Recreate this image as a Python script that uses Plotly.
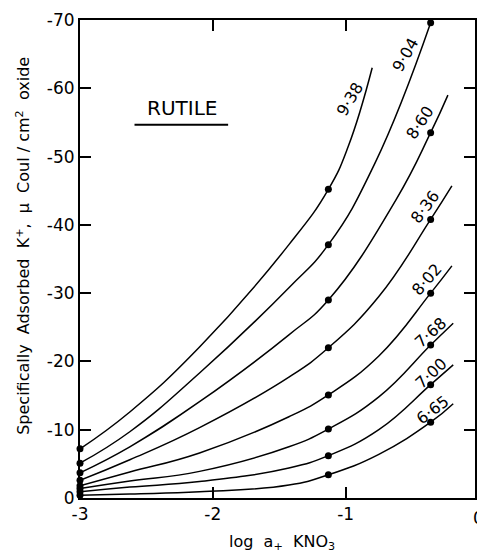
import plotly.graph_objects as go

# pH of each isotherm (as printed on the curves)
ph_labels = ["9·38", "9·04", "8·60", "8·36", "8·02", "7·68", "7·00", "6·65"]

# log a+ KNO3 sample points along each smooth isotherm
x_938 = [-3.0, -2.625, -2.1, -1.427, -1.13, -0.98, -0.80]
y_938 = [7.2, 12.6, 22.1, 37.1, 45.2, 51.5, 63.0]

x_904 = [-3.0, -2.625, -2.1, -1.427, -1.13, -0.78, -0.36]
y_904 = [5.1, 9.7, 18.3, 30.8, 37.1, 49.0, 69.6]

x_860 = [-3.0, -2.625, -2.1, -1.427, -1.13, -0.62, -0.36, -0.23]
y_860 = [3.7, 7.5, 14.1, 23.9, 29.0, 43.7, 53.5, 59.0]

x_836 = [-3.0, -2.625, -2.1, -1.427, -1.13, -0.75, -0.36, -0.20]
y_836 = [2.6, 5.6, 10.3, 17.7, 22.0, 29.5, 40.8, 45.7]

x_802 = [-3.0, -2.625, -2.1, -1.427, -1.13, -0.75, -0.36, -0.20]
y_802 = [1.8, 3.8, 6.6, 11.9, 15.1, 20.8, 30.0, 34.0]

x_768 = [-3.0, -2.625, -2.1, -1.427, -1.13, -0.75, -0.36, -0.19]
y_768 = [1.4, 2.5, 3.9, 7.5, 10.1, 14.8, 22.4, 25.6]

x_700 = [-3.0, -2.625, -2.1, -1.427, -1.13, -0.75, -0.36, -0.19]
y_700 = [0.9, 1.6, 2.4, 4.4, 6.2, 10.0, 16.6, 19.5]

x_665 = [-3.0, -2.625, -2.1, -1.427, -1.13, -0.75, -0.36, -0.19]
y_665 = [0.4, 0.6, 0.9, 1.9, 3.4, 6.4, 11.1, 13.8]

# measured points (filled circles)
dot_x = [-3.0, -1.13, -0.36]
dot_left = [7.2, 5.1, 3.7, 2.6, 1.8, 1.4, 0.9, 0.4]
dot_mid = [45.2, 37.1, 29.0, 22.0, 15.1, 10.1, 6.2, 3.4]
dot_right = [None, 69.6, 53.5, 40.8, 30.0, 22.4, 16.6, 11.1]

# axis ticks
x_ticks = [-3, -2, -1]
x_ticktext = ["-3", "-2", "-1"]
y_ticks = [0, -10, -20, -30, -40, -50, -60, -70]
y_ticktext = ["0", "-10", "-20", "-30", "-40", "-50", "-60", "-70"]

curves_x = [x_938, x_904, x_860, x_836, x_802, x_768, x_700, x_665]
curves_y = [y_938, y_904, y_860, y_836, y_802, y_768, y_700, y_665]

FONT = "DejaVu Sans"
fig = go.Figure()

for cx, cy in zip(curves_x, curves_y):
    fig.add_trace(go.Scatter(
        x=cx, y=[-v for v in cy], mode="lines",
        line=dict(color="black", width=1.5, shape="spline", smoothing=1.3),
        hoverinfo="skip", showlegend=False,
    ))

for i in range(len(ph_labels)):
    xs, ys = [], []
    for xv, yv in zip(dot_x, [dot_left[i], dot_mid[i], dot_right[i]]):
        if yv is not None:
            xs.append(xv)
            ys.append(-yv)
    fig.add_trace(go.Scatter(
        x=xs, y=ys, mode="markers",
        marker=dict(color="black", size=7),
        showlegend=False, cliponaxis=False,
    ))

# placement of the pH labels beside the curve ends: (x, y, angle)
label_place = [
    (-0.97, -58.4, -59),
    (-0.55, -65.0, -61),
    (-0.44, -55.0, -57),
    (-0.40, -42.7, -53),
    (-0.39, -32.0, -49),
    (-0.36, -24.2, -42),
    (-0.36, -18.3, -43),
    (-0.34, -12.9, -37),
]
for text, (lx, ly, ang) in zip(ph_labels, label_place):
    fig.add_annotation(x=lx, y=ly, text=text, showarrow=False, textangle=ang,
                       xanchor="center", yanchor="middle",
                       font=dict(family=FONT, size=16, color="black"))

# panel title with underline
fig.add_annotation(xref="paper", yref="paper", x=0.257, y=0.816, text="RUTILE",
                   showarrow=False, xanchor="center", yanchor="middle",
                   font=dict(family=FONT, size=20, color="black"))
fig.add_shape(type="line", xref="paper", yref="paper",
              x0=0.138, x1=0.375, y0=0.781, y1=0.781,
              line=dict(color="black", width=2))

# axis titles
fig.add_annotation(xref="paper", yref="paper", x=-0.145, y=0.527,
                   text="Specifically  Adsorbed  K<sup>+</sup>,  \u03bc  Coul / cm<sup>2</sup>  oxide",
                   textangle=-90, showarrow=False, xanchor="center", yanchor="middle",
                   font=dict(family=FONT, size=16, color="black"))
fig.add_annotation(xref="paper", yref="paper", x=0.511, y=-0.094,
                   text="log  a<sub>+</sub>  KNO<sub>3</sub>",
                   showarrow=False, xanchor="center", yanchor="middle",
                   font=dict(family=FONT, size=16, color="black"))
# the 0 tick of the x axis falls at the right border
fig.add_annotation(xref="paper", yref="paper", x=1.009, y=-0.016,
                   xanchor="center", yanchor="top",
                   text="0", showarrow=False,
                   font=dict(family=FONT, size=17, color="black"))

fig.update_xaxes(range=[-3, -0.026], tickvals=x_ticks, ticktext=x_ticktext,
                 ticks="inside", ticklen=11, tickwidth=1.5, tickcolor="black",
                 showline=True, linecolor="black", linewidth=2, mirror="ticks",
                 showgrid=False, zeroline=False,
                 tickfont=dict(family=FONT, size=17, color="black"))
fig.update_yaxes(range=[0, -70], tickvals=y_ticks, ticktext=y_ticktext,
                 ticks="inside", ticklen=11, tickwidth=1.5, tickcolor="black",
                 showline=True, linecolor="black", linewidth=2, mirror="ticks",
                 showgrid=False, zeroline=False,
                 tickfont=dict(family=FONT, size=17, color="black"))

fig.update_layout(width=477, height=556,
                  margin=dict(l=80, r=0, t=20, b=58),
                  plot_bgcolor="white", paper_bgcolor="white",
                  showlegend=False)

fig.write_html("out.html")
